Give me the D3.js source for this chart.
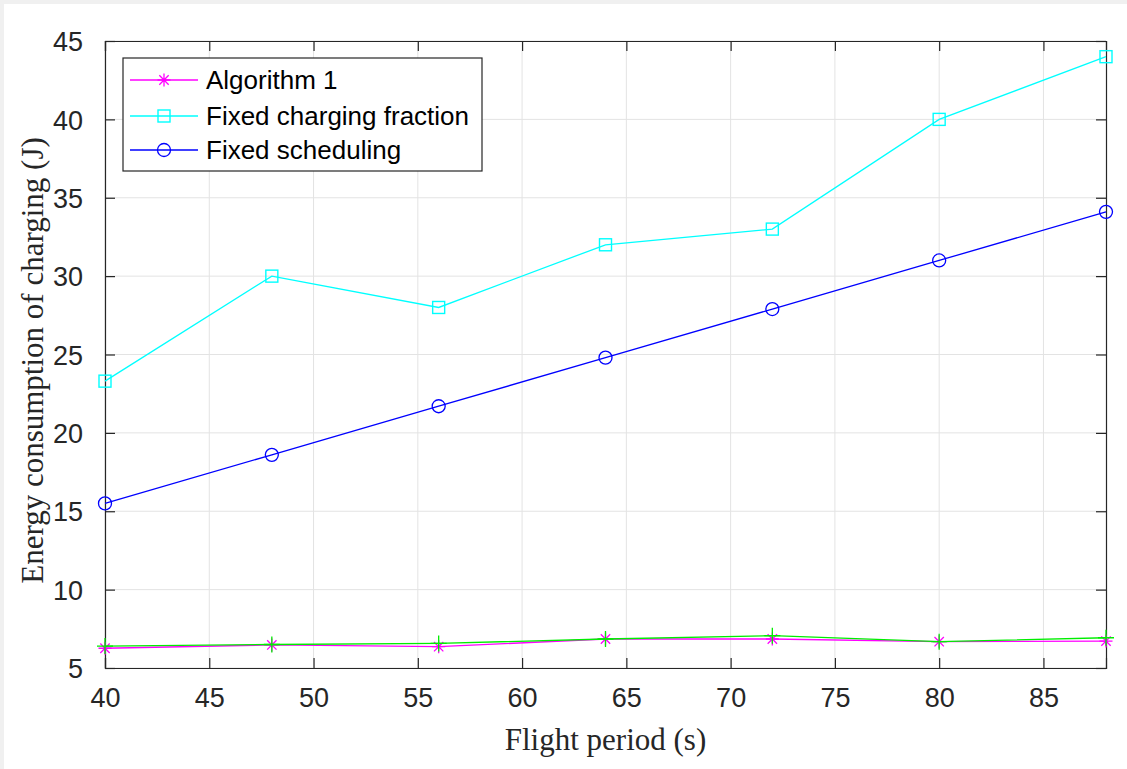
<!DOCTYPE html>
<html>
<head>
<meta charset="utf-8">
<script src="https://cdn.jsdelivr.net/npm/d3@7"></script>
<style>
  html, body { margin: 0; padding: 0; background: #f0f0f0; }
  svg { display: block; }
</style>
</head>
<body>
<svg id="chart" width="1127" height="769"></svg>
<script>
// datos
const periodos = [40, 48, 56, 64, 72, 80, 88];
const algoritmo1 = [6.26, 6.47, 6.36, 6.85, 6.85, 6.68, 6.72];
const algoritmo1Cota = [6.4, 6.5, 6.57, 6.85, 7.06, 6.68, 6.93];
const fraccionFija = [23.3, 30.0, 28.0, 32.0, 33.0, 40.0, 44.0];
const planFijo = [15.5, 18.6, 21.7, 24.8, 27.9, 31.0, 34.1];
const xTicks = [40, 45, 50, 55, 60, 65, 70, 75, 80, 85];
const yTicks = [5, 10, 15, 20, 25, 30, 35, 40, 45];
const nombres = ["Algorithm 1", "Fixed charging fraction", "Fixed scheduling"];

const svg = d3.select("#chart");
const W = 1127, H = 769;
const m = { left: 105, right: 1106, top: 41, bottom: 668 };

// fondo blanco de la figura
svg.append("rect").attr("x", 4).attr("y", 4).attr("width", W - 4).attr("height", H - 4).attr("fill", "#fff");

const x = d3.scaleLinear().domain([40, 88]).range([m.left, m.right]);
const y = d3.scaleLinear().domain([5, 45]).range([m.bottom, m.top]);

// rejilla
const grid = svg.append("g").attr("stroke", "#e3e3e3").attr("stroke-width", 1);
xTicks.forEach(t => grid.append("line").attr("x1", x(t)).attr("x2", x(t)).attr("y1", m.top).attr("y2", m.bottom));
yTicks.forEach(t => grid.append("line").attr("x1", m.left).attr("x2", m.right).attr("y1", y(t)).attr("y2", y(t)));

// ejes (ticks hacia dentro, caja completa)
const colEje = "#262626";
const tl = 10;
const ejeX = d3.axisBottom(x).tickValues(xTicks).tickSize(-tl).tickPadding(20).tickFormat(d3.format("d"));
const ejeY = d3.axisLeft(y).tickValues(yTicks).tickSize(-tl).tickPadding(22).tickFormat(d3.format("d"));

const gx = svg.append("g").attr("transform", `translate(0,${m.bottom})`).call(ejeX);
const gy = svg.append("g").attr("transform", `translate(${m.left},0)`).call(ejeY);
const gxTop = svg.append("g").attr("transform", `translate(0,${m.top})`)
  .call(d3.axisTop(x).tickValues(xTicks).tickSize(-tl).tickFormat(""));
const gyRight = svg.append("g").attr("transform", `translate(${m.right},0)`)
  .call(d3.axisRight(y).tickValues(yTicks).tickSize(-tl).tickFormat(""));

[gx, gy, gxTop, gyRight].forEach(g => {
  g.select(".domain").attr("stroke", colEje).attr("stroke-width", 1.2);
  g.selectAll(".tick line").attr("stroke", colEje).attr("stroke-width", 1.2);
  g.selectAll(".tick text").attr("fill", "#262626")
    .style("font-family", "'Liberation Sans', Arial, sans-serif").style("font-size", "27px");
});
gx.selectAll(".tick text").attr("dy", "0.71em");
gy.selectAll(".tick text").attr("dy", "0.36em");

// etiquetas de ejes
svg.append("text")
  .attr("x", (m.left + m.right) / 2).attr("y", 750)
  .attr("text-anchor", "middle")
  .style("font-family", "'Liberation Serif', 'Times New Roman', serif").style("font-size", "31px")
  .attr("fill", "#262626")
  .text("Flight period (s)");
svg.append("text")
  .attr("transform", `translate(43,${(m.top + m.bottom) / 2 + 6}) rotate(-90)`)
  .attr("text-anchor", "middle")
  .style("font-family", "'Liberation Serif', 'Times New Roman', serif").style("font-size", "31px")
  .attr("fill", "#262626")
  .text("Energy consumption of charging (J)");

// marcadores
function asterisco(g, cx, cy, r, color) {
  const p = d3.path();
  p.moveTo(cx - r, cy); p.lineTo(cx + r, cy);
  p.moveTo(cx, cy - r); p.lineTo(cx, cy + r);
  const d = r * 0.72;
  p.moveTo(cx - d, cy - d); p.lineTo(cx + d, cy + d);
  p.moveTo(cx - d, cy + d); p.lineTo(cx + d, cy - d);
  g.append("path").attr("d", p.toString()).attr("stroke", color).attr("stroke-width", 1.3).attr("fill", "none");
}
function cruz(g, cx, cy, r, color) {
  const p = d3.path();
  p.moveTo(cx - r, cy); p.lineTo(cx + r, cy);
  p.moveTo(cx, cy - r); p.lineTo(cx, cy + r);
  g.append("path").attr("d", p.toString()).attr("stroke", color).attr("stroke-width", 1.3).attr("fill", "none");
}
function cuadrado(g, cx, cy, r, color) {
  g.append("rect").attr("x", cx - r).attr("y", cy - r).attr("width", 2 * r).attr("height", 2 * r)
    .attr("stroke", color).attr("stroke-width", 1.4).attr("fill", "none");
}
function circulo(g, cx, cy, r, color) {
  g.append("circle").attr("cx", cx).attr("cy", cy).attr("r", r)
    .attr("stroke", color).attr("stroke-width", 1.3).attr("fill", "none");
}

const series = [
  { valores: fraccionFija, color: "#00ffff", marca: cuadrado, r: 6 },
  { valores: planFijo, color: "#0000ff", marca: circulo, r: 6.5 },
  { valores: algoritmo1, color: "#ff00ff", marca: asterisco, r: 6.5 },
  { valores: algoritmo1Cota, color: "#00ee00", marca: cruz, r: 8 }
];

const linea = d3.line().x((d, i) => x(periodos[i])).y(d => y(d));
const gSeries = svg.append("g");
series.forEach(s => {
  gSeries.append("path").datum(s.valores)
    .attr("d", linea).attr("fill", "none").attr("stroke", s.color).attr("stroke-width", 1.3);
  s.valores.forEach((v, i) => s.marca(gSeries, x(periodos[i]), y(v), s.r, s.color));
});

// leyenda
const leg = svg.append("g");
leg.append("rect").attr("x", 123).attr("y", 58).attr("width", 359).attr("height", 113)
  .attr("fill", "#fff").attr("stroke", colEje).attr("stroke-width", 1.2);
const legSeries = [series[2], series[0], series[1]];
const filas = [80, 116, 150];
legSeries.forEach((s, i) => {
  const yy = filas[i];
  leg.append("line").attr("x1", 130).attr("x2", 198).attr("y1", yy).attr("y2", yy)
    .attr("stroke", s.color).attr("stroke-width", 1.3);
  s.marca(leg, 164, yy, s.r, s.color);
  leg.append("text").attr("x", 206).attr("y", yy).attr("dy", "0.36em")
    .style("font-family", "'Liberation Sans', Arial, sans-serif").style("font-size", "26px")
    .attr("fill", "#000").text(nombres[i]);
});
</script>
</body>
</html>
